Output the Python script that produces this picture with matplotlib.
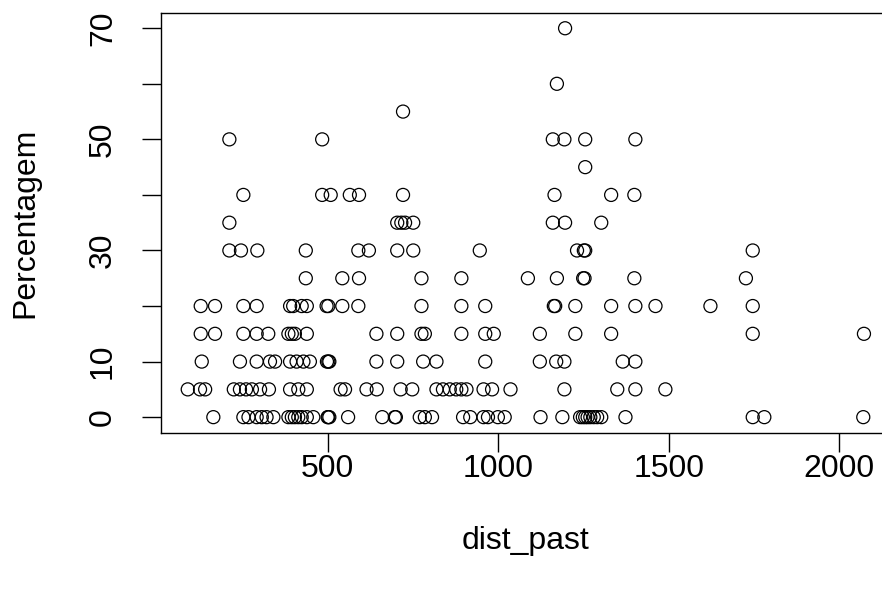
import numpy as np
import matplotlib
matplotlib.use("Agg")
import matplotlib.pyplot as plt

# dist_past values for each Percentagem level
x_p0 = [165, 253, 268, 292, 307, 321, 341, 385, 395, 404, 414, 424, 439, 458,
        500, 502, 505, 560, 660, 697, 700, 770, 785, 806, 897, 918, 957, 970,
        999, 1019, 1124, 1188, 1240, 1248, 1255, 1262, 1270, 1280, 1290, 1302,
        1373, 1746, 1780, 2070]
x_p5 = [90, 126, 141, 225, 243, 261, 278, 302, 328, 390, 414, 439, 538, 551,
        614, 644, 714, 748, 819, 838, 858, 877, 892, 907, 957, 982, 1036, 1194,
        1349, 1402, 1490]
x_p10 = [131, 243, 292, 331, 346, 390, 409, 429, 448, 498, 502, 505, 643, 704,
         780, 819, 962, 1122, 1170, 1194, 1365, 1402]
x_p15 = [128, 170, 253, 292, 326, 385, 395, 404, 439, 643, 704, 775, 785, 892,
         962, 987, 1122, 1226, 1331, 1746, 2072]
x_p20 = [128, 170, 253, 292, 390, 399, 424, 439, 497, 502, 543, 590, 775, 892,
         962, 1163, 1167, 1226, 1331, 1402, 1461, 1622, 1746]
x_p25 = [436, 543, 592, 775, 892, 1087, 1172, 1249, 1253, 1399, 1726]
x_p30 = [212, 246, 294, 436, 590, 621, 704, 751, 946, 1231, 1251, 1255, 1746]
x_p35 = [212, 704, 716, 727, 751, 1160, 1196, 1302]
x_p40 = [253, 484, 509, 565, 592, 721, 1165, 1331, 1399]
x_p45 = [1255]
x_p50 = [212, 484, 1160, 1194, 1255, 1402]
x_p55 = [721]
x_p60 = [1172]
x_p70 = [1196]

levels = [0, 5, 10, 15, 20, 25, 30, 35, 40, 45, 50, 55, 60, 70]
groups = [x_p0, x_p5, x_p10, x_p15, x_p20, x_p25, x_p30, x_p35, x_p40,
          x_p45, x_p50, x_p55, x_p60, x_p70]

dist_past = np.concatenate([np.array(g, float) for g in groups])
percentagem = np.concatenate([np.full(len(g), lv, float) for g, lv in zip(groups, levels)])

plt.rcParams['font.family'] = ['Liberation Sans', 'DejaVu Sans']
fs = 23

fig = plt.figure(figsize=(8.82, 5.91), dpi=100)
W, H = 882, 591
l, r, t, b = 160.7, 891.0, 12.7, 432.7
ax = fig.add_axes([l / W, (H - b) / H, (r - l) / W, (b - t) / H])

ax.scatter(dist_past, percentagem, s=88, facecolors='none',
           edgecolors='black', linewidths=0.9)
ax.margins(x=0.04, y=0.04)

ax.set_xticks([500, 1000, 1500, 2000])
ax.set_yticks(range(0, 80, 10))
ax.set_yticklabels(['0', '10', '', '30', '', '50', '', '70'],
                   rotation=90, va='center')
ax.tick_params(axis='both', direction='out', length=13.7, width=1.0,
               labelsize=fs, colors='black')
ax.tick_params(axis='x', pad=1.5)
ax.tick_params(axis='y', pad=17)
for sp in ax.spines.values():
    sp.set_linewidth(1.0)

fig.text((l + r) / 2 / W, 1 - 541 / H, 'dist_past', fontsize=fs,
         ha='center', va='center')
fig.text(25 / W, 1 - 222.7 / H, 'Percentagem', fontsize=fs,
         ha='center', va='center', rotation=90)

fig.savefig('out.png', dpi=100)
